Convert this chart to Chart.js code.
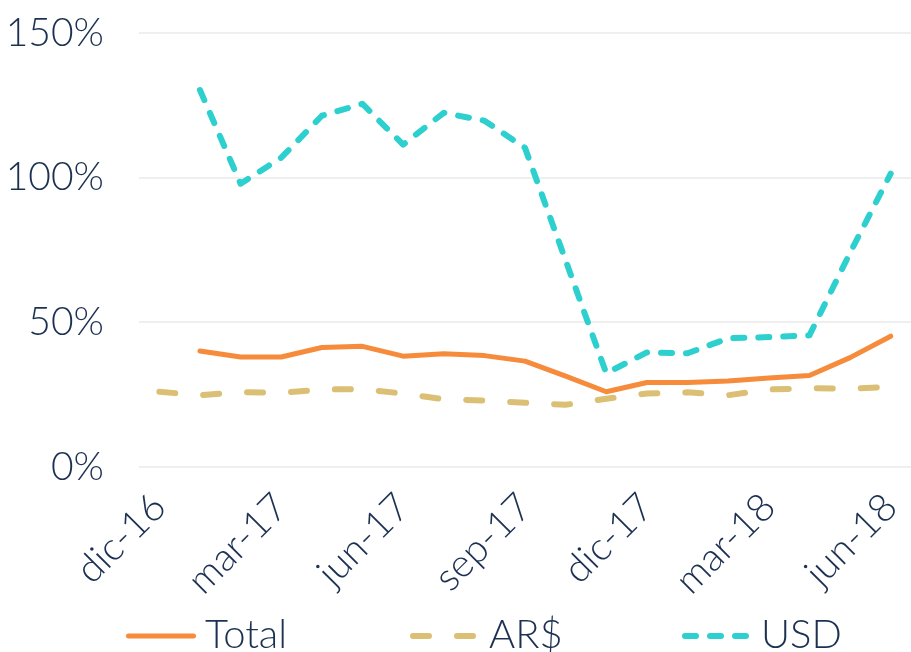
<!DOCTYPE html>
<html>
<head>
<meta charset="utf-8">
<script src="https://cdn.jsdelivr.net/npm/chart.js@4.4.1/dist/chart.umd.min.js"></script>
<style>
  html, body { margin: 0; padding: 0; background: #fff; }
  #wrap { width: 911px; height: 652px; position: relative; }
</style>
</head>
<body>
<div id="wrap"><canvas id="rateChart"></canvas></div>
<script>
// months dic-16 .. jun-18
const months = ['dic-16','ene-17','feb-17','mar-17','abr-17','may-17','jun-17','jul-17','ago-17',
                'sep-17','oct-17','nov-17','dic-17','ene-18','feb-18','mar-18','abr-18','may-18','jun-18'];
const totalVals = [null, 40.1, 38.0, 38.0, 41.3, 41.7, 38.3, 39.1, 38.5, 36.6, 31.4, 26.0, 29.2, 29.2, 29.7, 30.8, 31.6, 37.8, 45.2];
const arsVals   = [26.0, 24.8, 25.9, 25.6, 26.8, 26.9, 25.4, 23.4, 23.0, 22.2, 21.5, 23.6, 25.4, 25.8, 24.8, 26.8, 27.2, 27.1, 27.7];
const usdVals   = [null, 130.3, 97.9, 106.9, 121.4, 125.5, 111.4, 122.4, 119.7, 110.3, 71.4, 32.4, 39.6, 39.3, 44.5, 44.9, 45.5, 74.0, 101.4];
const yTicks = [0, 50, 100, 150];

const ink = '#1c3152';
const fontFam = 'Lato, "Open Sans", sans-serif';

let charts = {};

// legend drawn by hand so the items sit where the original has them
const legendPos = { xs: [126, 410, 682], y: 636, len: 70, textGap: 79, baseline: 648 };
const lineLegend = {
    id: 'lineLegend',
    afterDraw(chart) {
        const ctx = chart.ctx;
        chart.data.datasets.forEach((ds, i) => {
            const x = legendPos.xs[i];
            const w = ds.borderWidth;
            ctx.save();
            ctx.strokeStyle = ds.borderColor;
            ctx.lineWidth = w;
            ctx.lineCap = 'round';
            ctx.setLineDash(ds.borderDash || []);
            ctx.beginPath();
            ctx.moveTo(x + w / 2, legendPos.y);
            ctx.lineTo(x + legendPos.len - w / 2, legendPos.y);
            ctx.stroke();
            ctx.setLineDash([]);
            ctx.fillStyle = ink;
            ctx.font = '300 40px ' + fontFam;
            ctx.textBaseline = 'alphabetic';
            ctx.fillText(ds.label, x + legendPos.textGap, legendPos.baseline);
            ctx.restore();
        });
    }
};

function renderRateChart() {
    const ctx = document.getElementById('rateChart');
    charts.rate = new Chart(ctx, {
        type: 'line',
        data: {
            labels: months,
            datasets: [
                {
                    label: 'Total',
                    data: totalVals,
                    borderColor: '#f68b3b',
                    backgroundColor: '#f68b3b',
                    borderWidth: 5,
                    borderCapStyle: 'round',
                    borderJoinStyle: 'round',
                    pointRadius: 0,
                    tension: 0
                },
                {
                    label: 'AR$',
                    data: arsVals,
                    borderColor: '#dbbf74',
                    backgroundColor: '#dbbf74',
                    borderWidth: 6,
                    borderDash: [16, 28],
                    borderCapStyle: 'round',
                    borderJoinStyle: 'round',
                    pointRadius: 0,
                    tension: 0
                },
                {
                    label: 'USD',
                    data: usdVals,
                    borderColor: '#2ecfcf',
                    backgroundColor: '#2ecfcf',
                    borderWidth: 6,
                    borderDash: [11, 14],
                    borderCapStyle: 'round',
                    borderJoinStyle: 'round',
                    pointRadius: 0,
                    tension: 0
                }
            ]
        },
        options: {
            responsive: true,
            maintainAspectRatio: false,
            animation: false,
            layout: { padding: { top: 33, right: 0, bottom: 0, left: 0 } },
            scales: {
                x: {
                    offset: true,
                    grid: { display: false, drawTicks: false },
                    border: { display: false },
                    afterFit: function(axis) {
                        axis.height = 185;
                        axis.paddingLeft = 0;
                        axis.paddingRight = 0;
                    },
                    ticks: {
                        autoSkip: false,
                        minRotation: 45,
                        maxRotation: 45,
                        padding: 17,
                        color: ink,
                        font: { family: fontFam, size: 39, weight: 300 },
                        callback: function(val, i) { return i % 3 === 0 ? months[i] : ''; }
                    }
                },
                y: {
                    min: 0,
                    max: 150,
                    afterBuildTicks: function(axis) { axis.ticks = yTicks.map(v => ({ value: v })); },
                    afterFit: function(axis) {
                        axis.width = 139;
                        axis.paddingTop = 0;
                        axis.paddingBottom = 0;
                    },
                    grid: { color: '#efefef', lineWidth: 2, drawTicks: false },
                    border: { display: false },
                    ticks: {
                        padding: 35,
                        color: ink,
                        font: { family: fontFam, size: 39, weight: 300 },
                        callback: v => v + '%'
                    }
                }
            },
            plugins: {
                legend: { display: false },
                tooltip: { enabled: false }
            }
        },
        plugins: [lineLegend]
    });
}

renderRateChart();
</script>
</body>
</html>
